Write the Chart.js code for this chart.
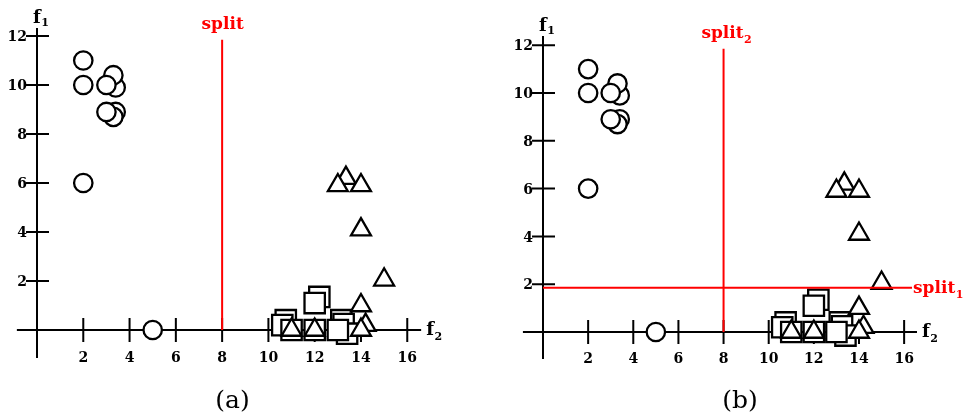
<!DOCTYPE html>
<html>
<head>
<meta charset="utf-8">
<script src="https://cdn.jsdelivr.net/npm/chart.js@4.4.1/dist/chart.umd.min.js"></script>
<style>
    body { margin: 0; background: #fff; }
    #wrap { position: relative; width: 963px; height: 420px; }
    #wrap canvas { position: absolute; top: 0; }
</style>
</head>
<body>
<div id="wrap">
    <canvas id="panelA" width="480" height="420" style="left:0"></canvas>
    <canvas id="panelB" width="483" height="420" style="left:480px"></canvas>
</div>
<script>
// Samples: f2 on the horizontal axis, f1 on the vertical axis
const circleF2 = [2, 2, 2, 5, 3.4, 3.3, 3, 3.4, 3.3, 3];
const circleF1 = [11, 10, 6, 0, 9.9, 10.4, 10, 8.9, 8.7, 8.9];
const squareF2 = [10.75, 10.6, 11, 12.2, 12, 12, 13.15, 13.25, 13.4, 13];
const squareF1 = [0.4, 0.2, 0, 1.35, 1.1, 0, 0.4, 0.24, -0.15, 0];
const triangleF2 = [13.35, 13, 14, 14, 15, 14, 14.2, 11, 12, 14];
const triangleF1 = [6.2, 5.9, 5.9, 4.1, 2.05, 1, 0.2, 0, 0, 0];

// Tick labels
const xTicks = [2, 4, 6, 8, 10, 12, 14, 16];
const yTicks = [2, 4, 6, 8, 10, 12];

// Split thresholds
const splitF2 = 8;      // vertical split on f2
const splitF1 = 1.85;   // horizontal split on f1
const splitTop = 11.85; // how far the vertical split line reaches

const toPoints = (xs, ys) => xs.map((v, i) => ({ x: v, y: ys[i] }));

const TICK_FONT = 'bold 14px "DejaVu Serif"';
const LABEL_FONT = 'bold 17px "DejaVu Serif"';
const AXIS_FONT = 'bold 18px "DejaVu Serif"';
const SUB_FONT = 'bold 11px "DejaVu Serif"';

// text with a subscript, returns total width
function drawSub(ctx, main, sub, x, y, color, mainFont, subFont, drop) {
    ctx.fillStyle = color;
    ctx.font = mainFont;
    ctx.textAlign = 'left';
    ctx.textBaseline = 'alphabetic';
    const w = ctx.measureText(main).width;
    ctx.fillText(main, x, y);
    if (sub) {
        ctx.font = subFont;
        ctx.fillText(sub, x + w + 0.5, y + drop);
        return w + 0.5 + ctx.measureText(sub).width;
    }
    return w;
}

function measureSub(ctx, main, sub, mainFont, subFont) {
    ctx.font = mainFont;
    let w = ctx.measureText(main).width;
    if (sub) {
        ctx.font = subFont;
        w += 0.5 + ctx.measureText(sub).width;
    }
    return w;
}

const axesPlugin = {
    id: 'axes',
    beforeDatasetsDraw(chart, args, opts) {
        const { ctx, scales: { x, y } } = chart;
        const x0 = x.getPixelForValue(0);
        const y0 = y.getPixelForValue(0);
        ctx.save();
        ctx.strokeStyle = '#000';
        ctx.lineWidth = 2;
        ctx.beginPath();
        ctx.moveTo(x.getPixelForValue(opts.xFrom), y0);
        ctx.lineTo(x.getPixelForValue(opts.xTo), y0);
        ctx.moveTo(x0, y.getPixelForValue(opts.yFrom));
        ctx.lineTo(x0, y.getPixelForValue(opts.yTo));
        xTicks.forEach(v => {
            const px = x.getPixelForValue(v);
            ctx.moveTo(px, y0 - 12);
            ctx.lineTo(px, y0 + 12);
        });
        yTicks.forEach(v => {
            const py = y.getPixelForValue(v);
            ctx.moveTo(x0 - 11, py);
            ctx.lineTo(x0 + 12, py);
        });
        ctx.stroke();

        // tick labels
        ctx.fillStyle = '#000';
        ctx.font = TICK_FONT;
        ctx.textAlign = 'center';
        ctx.textBaseline = 'middle';
        const labelY = y.getPixelForValue(opts.yFrom) + 0.5;
        xTicks.forEach(v => ctx.fillText(String(v), x.getPixelForValue(v), labelY));
        ctx.textAlign = 'right';
        yTicks.forEach(v => ctx.fillText(String(v), x0 - 10, y.getPixelForValue(v) + 1.5));

        // axis names
        const topPx = y.getPixelForValue(opts.yTo);
        drawSub(ctx, 'f', '1', x0 - 4, topPx - 5, '#000', AXIS_FONT, SUB_FONT, 3);
        const endPx = x.getPixelForValue(opts.xTo);
        drawSub(ctx, 'f', '2', endPx + 5, y0 + 5, '#000', AXIS_FONT, SUB_FONT, 5);
        ctx.restore();
    },
    afterDatasetsDraw(chart, args, opts) {
        const { ctx, scales: { x, y } } = chart;
        ctx.save();
        // label above the vertical split
        const vx = x.getPixelForValue(splitF2);
        const vTop = y.getPixelForValue(splitTop);
        const w = measureSub(ctx, 'split', opts.vSub, LABEL_FONT, SUB_FONT);
        drawSub(ctx, 'split', opts.vSub, vx - w / 2 + (opts.vSub ? 3 : 0.5), vTop - 11, '#f00', LABEL_FONT, SUB_FONT, 5);

        // label at the end of the horizontal split
        if (opts.hSplit) {
            const hx = x.getPixelForValue(opts.hEnd) + 1;
            const hy = y.getPixelForValue(splitF1);
            drawSub(ctx, 'split', '1', hx, hy + 5.7, '#f00', LABEL_FONT, SUB_FONT, 4.5);
        }

        // caption
        ctx.fillStyle = '#000';
        ctx.font = '25px "DejaVu Serif"';
        ctx.textAlign = 'center';
        ctx.textBaseline = 'alphabetic';
        ctx.fillText(opts.caption, opts.captionX, 408);
        ctx.restore();
    }
};

function markerSet(data, style, radius, order) {
    return {
        data: data,
        pointStyle: style,
        pointRadius: radius,
        pointHoverRadius: radius,
        backgroundColor: '#fff',
        borderColor: '#000',
        pointBorderWidth: 2.3,
        showLine: false,
        order: order
    };
}

function splitLine(points) {
    return {
        data: points,
        showLine: true,
        borderColor: '#f00',
        borderWidth: 2,
        pointRadius: 0,
        order: 0
    };
}

function makePanel(canvasId, padding, extraLines, axisOpts) {
    const datasets = [
        splitLine([{ x: splitF2, y: 0 }, { x: splitF2, y: splitTop }]),
        ...extraLines,
        markerSet(toPoints(triangleF2, triangleF1), 'triangle', 11.5, 1),
        markerSet(toPoints(circleF2, circleF1), 'circle', 9.2, 1),
        markerSet(toPoints(squareF2, squareF1), 'rect', 14.4, 2)
    ];
    return new Chart(document.getElementById(canvasId), {
        type: 'scatter',
        data: { datasets },
        options: {
            responsive: false,
            animation: false,
            events: [],
            layout: { padding, autoPadding: false },
            plugins: {
                legend: { display: false },
                tooltip: { enabled: false },
                axes: axisOpts
            },
            scales: {
                x: { type: 'linear', min: -1, max: 17, display: false },
                y: { type: 'linear', min: -1.5, max: 13, display: false }
            }
        },
        plugins: [axesPlugin]
    });
}

// (a) single split on f2
makePanel('panelA',
    { left: 13.86, right: 49.6, top: 11.5, bottom: 53.25 },
    [],
    { xFrom: -0.87, xTo: 16.6, yFrom: -1.14, yTo: 12.33, vSub: '', caption: '(a)', captionX: 232.5 }
);

// (b) split on f1 followed by split on f2
makePanel('panelB',
    { left: 40.43, right: 36.3, top: 21.3, bottom: 52.15 },
    [splitLine([{ x: 0, y: splitF1 }, { x: 16.35, y: splitF1 }])],
    { xFrom: -0.89, xTo: 16.57, yFrom: -1.13, yTo: 12.38, vSub: '2', hSplit: true, hEnd: 16.35, caption: '(b)', captionX: 260 }
);
</script>
</body>
</html>
